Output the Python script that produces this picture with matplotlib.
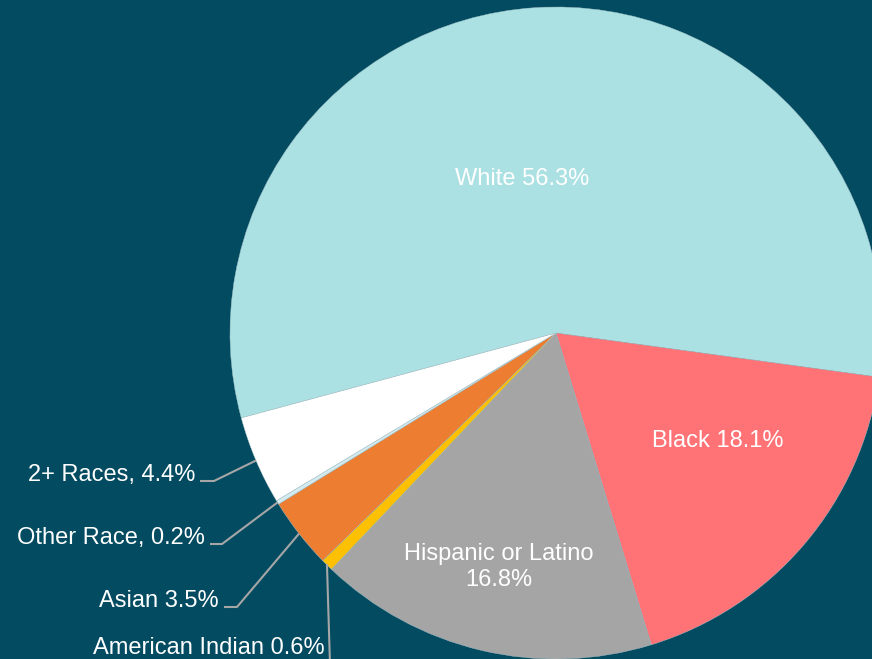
import matplotlib.pyplot as plt
import numpy as np

plt.rcParams['font.family'] = ['Liberation Sans', 'DejaVu Sans']

# Population share by race / ethnicity, listed clockwise from the White slice
groups = ["White", "Black", "Hispanic or Latino", "American Indian", "Asian", "Other Race", "2+ Races"]
shares = [56.3, 18.1, 16.8, 0.6, 3.5, 0.2, 4.4]
colors = ["#ABE1E3", "#FF7276", "#A5A5A5", "#FFC000", "#ED7D31", "#D3EBEE", "#FFFFFF"]

BG = "#024B61"
W, H = 872, 659
CX, CY, R = 556, H - 333, 326
START = 195.1
FS = 17

fig = plt.figure(figsize=(W / 100, H / 100), dpi=100, facecolor=BG)
ax = fig.add_axes([0, 0, 1, 1])
ax.set_facecolor(BG)

wedges, _ = ax.pie(shares, colors=colors, startangle=START, counterclock=False,
                   center=(CX, CY), radius=R,
                   wedgeprops=dict(linewidth=0.3, edgecolor="#A9C2C8"))
ax.set_xlim(0, W)
ax.set_ylim(0, H)
ax.set_aspect("equal")
ax.axis("off")

# labels inside the big slices (pixel positions, y measured from the top)
inside = {
    "White": (522, 179, "White 56.3%"),
    "Black": (718, 441, "Black 18.1%"),
    "Hispanic or Latino": (499, 567, "Hispanic or Latino\n16.8%"),
}
for name, (px, py, txt) in inside.items():
    ax.text(px, H - py, txt, color="white", fontsize=FS, ha="center", va="center",
            linespacing=1.2)

# outside labels with leader lines: (elbow x, elbow y, text right x)
outside = {
    "2+ Races": (214, 481, 200, "2+ Races, 4.4%"),
    "Other Race": (222, 544, 210, "Other Race, 0.2%"),
    "Asian": (237, 607, 224, "Asian 3.5%"),
}
for name, (ex, ey, tx, txt) in outside.items():
    w = wedges[groups.index(name)]
    mid = np.deg2rad((w.theta1 + w.theta2) / 2)
    sx, sy = CX + R * np.cos(mid), CY + R * np.sin(mid)
    ax.plot([sx, ex, tx], [sy, H - ey, H - ey], color="#A6A6A6", lw=1.5,
            solid_capstyle="butt")
    ax.text(tx - 5, H - ey + 6, txt, color="white", fontsize=FS, ha="right", va="center")

w = wedges[groups.index("American Indian")]
mid = np.deg2rad((w.theta1 + w.theta2) / 2)
sx, sy = CX + R * np.cos(mid), CY + R * np.sin(mid)
ax.plot([sx, sx + 3], [sy, -5], color="#A6A6A6", lw=1.5)
ax.text(sx - 2, H - 648, "American Indian 0.6%", color="white", fontsize=FS,
        ha="right", va="center")

fig.savefig("out.png", dpi=100, facecolor=BG)
